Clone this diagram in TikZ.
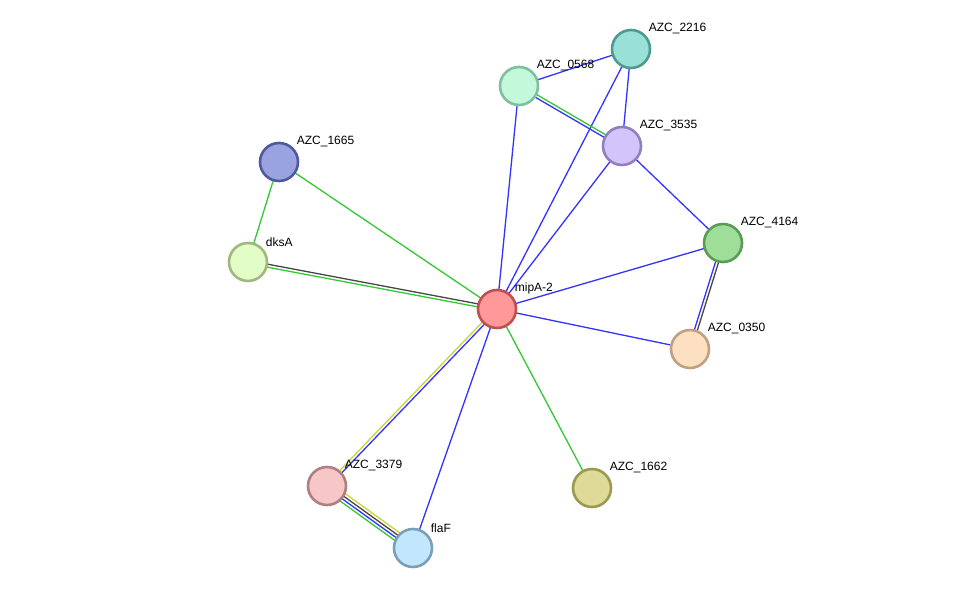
\documentclass[tikz,border=0pt]{standalone}
\usepackage{fontspec}
\setmainfont{Liberation Sans}
\usetikzlibrary{calc,backgrounds}

\definecolor{eblue}{RGB}{51,51,255}
\definecolor{egreen}{RGB}{51,200,51}
\definecolor{eyellow}{RGB}{200,212,60}
\definecolor{egrey}{RGB}{70,70,70}

% parallel edge: from, to, offset, colour
\newcommand{\pedge}[4]{\draw[edge, #4] ($(#1.center)!#3!90:(#2.center)$) -- ($(#2.center)!#3!-90:(#1.center)$);}

\begin{document}
\begin{tikzpicture}[x=1pt, y=-1pt,
    prot/.style={circle, line width=2.6pt, minimum size=38pt, inner sep=0pt},
    lbl/.style={font=\fontsize{12}{14}\selectfont, inner sep=1pt, text=black, label distance=1.5pt},
    edge/.style={line width=1.3pt}]
  \useasboundingbox (0,0) rectangle (975,594);
  % proteins
  \node[prot, fill={rgb,255:red,255;green,153;blue,153}, draw={rgb,255:red,192;green,80;blue,80},
        label={[lbl]40:mipA-2}] (mipA) at (497,309) {};
  \node[prot, fill={rgb,255:red,153;green,224;blue,214}, draw={rgb,255:red,78;green,154;blue,145},
        label={[lbl]40:AZC\_2216}] (azc2216) at (631,49) {};
  \node[prot, fill={rgb,255:red,195;green,249;blue,218}, draw={rgb,255:red,128;green,192;blue,160},
        label={[lbl]40:AZC\_0568}] (azc0568) at (519,86) {};
  \node[prot, fill={rgb,255:red,212;green,196;blue,252}, draw={rgb,255:red,144;green,128;blue,192},
        label={[lbl]40:AZC\_3535}] (azc3535) at (622,146) {};
  \node[prot, fill={rgb,255:red,153;green,163;blue,224}, draw={rgb,255:red,79;green,90;blue,156},
        label={[lbl]40:AZC\_1665}] (azc1665) at (279,162) {};
  \node[prot, fill={rgb,255:red,226;green,253;blue,198}, draw={rgb,255:red,160;green,184;blue,128},
        label={[lbl]40:dksA}] (dksA) at (248,262) {};
  \node[prot, fill={rgb,255:red,158;green,222;blue,153}, draw={rgb,255:red,90;green,156;blue,85},
        label={[lbl]40:AZC\_4164}] (azc4164) at (723,243) {};
  \node[prot, fill={rgb,255:red,253;green,223;blue,194}, draw={rgb,255:red,192;green,160;blue,128},
        label={[lbl]40:AZC\_0350}] (azc0350) at (690,349) {};
  \node[prot, fill={rgb,255:red,222;green,219;blue,152}, draw={rgb,255:red,156;green,154;blue,82},
        label={[lbl]40:AZC\_1662}] (azc1662) at (592,488) {};
  \node[prot, fill={rgb,255:red,247;green,198;blue,198}, draw={rgb,255:red,176;green,128;blue,128},
        label={[lbl]40:AZC\_3379}] (azc3379) at (327,486) {};
  \node[prot, fill={rgb,255:red,194;green,231;blue,252}, draw={rgb,255:red,122;green,160;blue,184},
        label={[lbl]40:flaF}] (flaF) at (413,548) {};
  % interactions
  \begin{scope}[on background layer]
    \draw[edge, eblue] (azc0568.center) -- (azc2216.center);
    \draw[edge, eblue] (azc2216.center) -- (azc3535.center);
    \draw[edge, eblue] (azc2216.center) -- (mipA.center);
    \draw[edge, eblue] (azc0568.center) -- (mipA.center);
    \draw[edge, eblue] (azc3535.center) -- (mipA.center);
    \draw[edge, eblue] (azc3535.center) -- (azc4164.center);
    \draw[edge, eblue] (azc4164.center) -- (mipA.center);
    \draw[edge, eblue] (azc0350.center) -- (mipA.center);
    \draw[edge, eblue] (mipA.center) -- (flaF.center);
    \draw[edge, egreen] (azc1665.center) -- (mipA.center);
    \draw[edge, egreen] (azc1665.center) -- (dksA.center);
    \draw[edge, egreen] (mipA.center) -- (azc1662.center);
    \pedge{azc0568}{azc3535}{1.5pt}{egreen}
    \pedge{azc0568}{azc3535}{-1.5pt}{eblue}
    \pedge{azc4164}{azc0350}{1.5pt}{egrey}
    \pedge{azc4164}{azc0350}{-1.5pt}{eblue}
    \pedge{dksA}{mipA}{1.5pt}{egrey}
    \pedge{dksA}{mipA}{-1.5pt}{egreen}
    \pedge{mipA}{azc3379}{1.5pt}{eblue}
    \pedge{mipA}{azc3379}{-1.5pt}{eyellow}
    \pedge{azc3379}{flaF}{4.5pt}{eyellow}
    \pedge{azc3379}{flaF}{1.5pt}{egrey}
    \pedge{azc3379}{flaF}{-1.5pt}{eblue}
    \pedge{azc3379}{flaF}{-4.5pt}{egreen}
  \end{scope}
\end{tikzpicture}
\end{document}
